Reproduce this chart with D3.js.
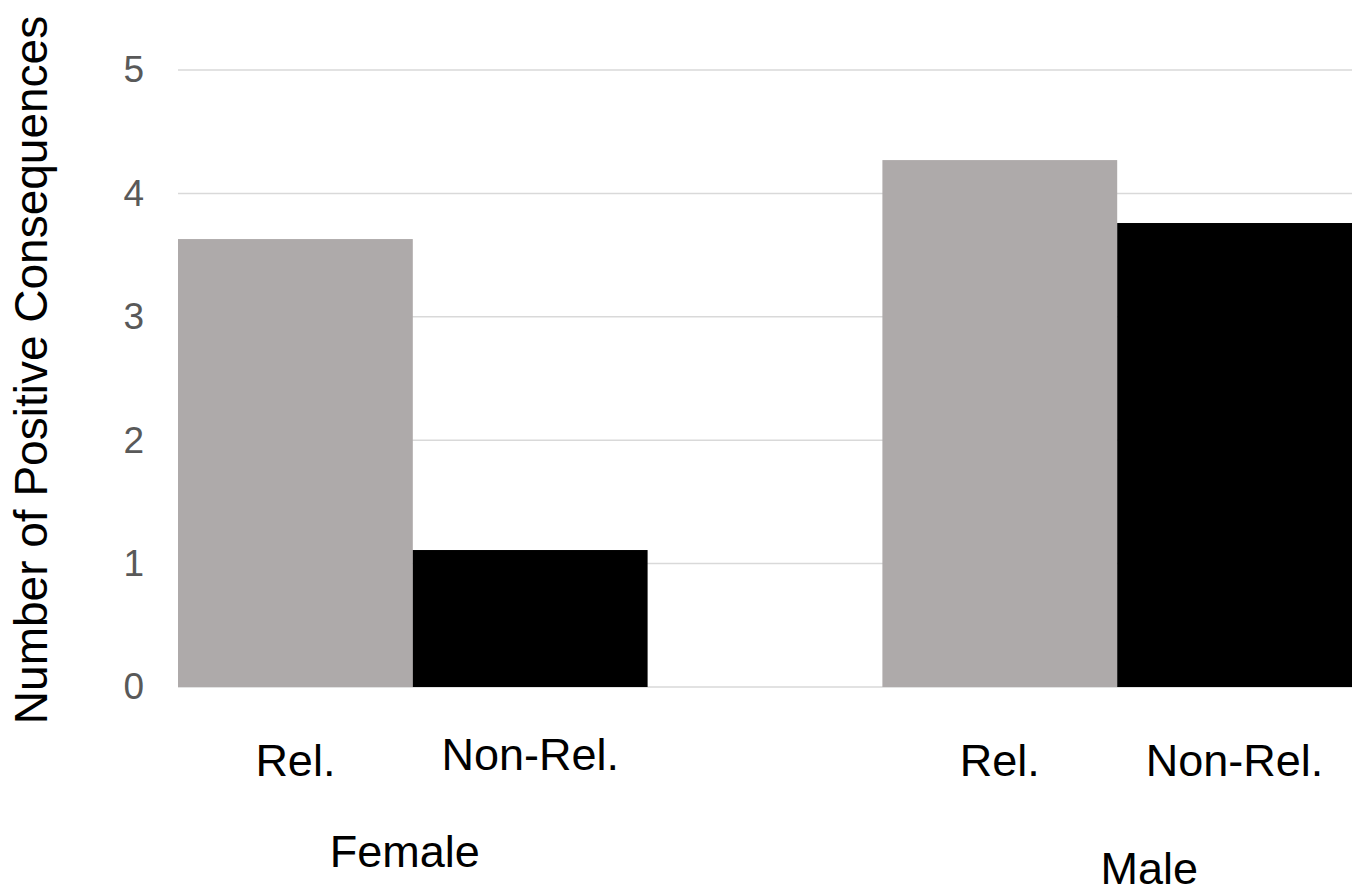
<!DOCTYPE html>
<html>
<head>
<meta charset="utf-8">
<script src="https://cdn.jsdelivr.net/npm/d3@7"></script>
<style>
  html, body { margin: 0; padding: 0; background: #fff; }
  svg { display: block; font-family: "Liberation Sans", Arial, sans-serif; }
</style>
</head>
<body>
<svg id="chart" width="1358" height="892"></svg>
<script>
// Mean number of positive consequences by gender and relationship status
const groups = ["Female", "Male"];
const subgroups = ["Rel.", "Non-Rel."];
const femaleValues = [3.63, 1.11];
const maleValues = [4.27, 3.76];
const yTicks = [0, 1, 2, 3, 4, 5];
const yTitle = "Number of Positive Consequences";

const seriesByGroup = { Female: femaleValues, Male: maleValues };
const barColors = { "Rel.": "#aeaaaa", "Non-Rel.": "#000000" };

const svg = d3.select("#chart");
const plot = { left: 178, right: 1352, top: 70, bottom: 687 };

const x0 = d3.scaleBand()
  .domain(groups)
  .range([plot.left, plot.right])
  .paddingInner(1 / 3)
  .paddingOuter(0);

const x1 = d3.scaleBand()
  .domain(subgroups)
  .range([0, x0.bandwidth()])
  .padding(0);

const y = d3.scaleLinear()
  .domain([0, 5])
  .range([plot.bottom, plot.top]);

// Horizontal gridlines
svg.append("g")
  .selectAll("line")
  .data(yTicks)
  .join("line")
  .attr("x1", plot.left)
  .attr("x2", plot.right)
  .attr("y1", d => y(d))
  .attr("y2", d => y(d))
  .attr("stroke", "#d9d9d9")
  .attr("stroke-width", 1.5);

// Y axis tick labels
const yAxis = d3.axisLeft(y)
  .tickValues(yTicks)
  .tickFormat(d3.format("d"))
  .tickSize(0)
  .tickPadding(0);
const yG = svg.append("g")
  .attr("transform", `translate(144,0)`)
  .call(yAxis);
yG.select(".domain").remove();
yG.selectAll("text")
  .attr("font-family", "'Liberation Sans', Arial, sans-serif")
  .attr("font-size", 37)
  .attr("fill", "#595959");

// Bars
const barData = groups.flatMap(g =>
  subgroups.map((s, i) => ({ group: g, sub: s, value: seriesByGroup[g][i] }))
);

svg.append("g")
  .selectAll("rect")
  .data(barData)
  .join("rect")
  .attr("x", d => x0(d.group) + x1(d.sub))
  .attr("width", x1.bandwidth())
  .attr("y", d => y(d.value))
  .attr("height", d => y(0) - y(d.value))
  .attr("fill", d => barColors[d.sub]);

// Subgroup labels under each bar
svg.append("g")
  .selectAll("text")
  .data(barData)
  .join("text")
  .attr("x", d => x0(d.group) + x1(d.sub) + x1.bandwidth() / 2)
  .attr("y", d => (d.group === "Female" && d.sub === "Non-Rel.") ? 770 : 776)
  .attr("text-anchor", "middle")
  .attr("font-size", 45)
  .attr("fill", "#000")
  .text(d => d.sub);

// Group labels
const groupLabelShift = { Female: [-8, 867], Male: [32, 884] };
svg.append("g")
  .selectAll("text")
  .data(groups)
  .join("text")
  .attr("x", g => x0(g) + x0.bandwidth() / 2 + groupLabelShift[g][0])
  .attr("y", g => groupLabelShift[g][1])
  .attr("text-anchor", "middle")
  .attr("font-size", 45)
  .attr("fill", "#000")
  .text(g => g);

// Y axis title
svg.append("text")
  .attr("transform", "translate(47,370) rotate(-90)")
  .attr("text-anchor", "middle")
  .attr("font-size", 46)
  .attr("fill", "#000")
  .text(yTitle);
</script>
</body>
</html>
